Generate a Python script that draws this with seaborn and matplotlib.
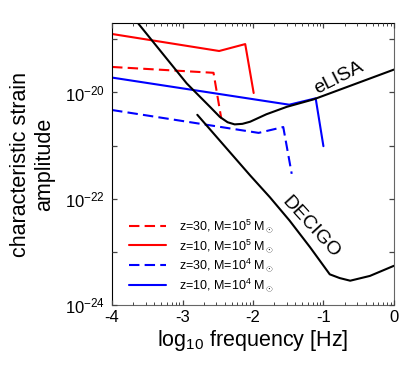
import numpy as np
import pandas as pd
import seaborn as sns
import matplotlib
matplotlib.use('Agg')
import matplotlib.pyplot as plt
from matplotlib.ticker import FixedLocator, FuncFormatter, NullFormatter

# values, log10 frequency [Hz] and log10 strain
elisa_logf = [-3.63, -2.94, -2.61, -2.47, -2.36, -2.26, -2.15, -2.04, -1.81, -1.52, -1.14, 0.0]
elisa_logh = [-18.70, -19.83, -20.27, -20.46, -20.56, -20.60, -20.59, -20.55, -20.41, -20.27, -20.13, -19.57]

decigo_logf = [-2.79, -2.04, -1.76, -1.48, -1.19, -0.91, -0.77, -0.62, -0.34, 0.0]
decigo_logh = [-20.42, -21.56, -21.97, -22.41, -22.91, -23.42, -23.49, -23.54, -23.45, -23.26]

z30_m5_logf = [-4.0, -2.56, -2.45]
z30_m5_logh = [-19.52, -19.63, -20.49]
z10_m5_logf = [-4.0, -2.48, -2.11, -1.99]
z10_m5_logh = [-18.90, -19.22, -19.09, -20.01]
z30_m4_logf = [-4.0, -1.92, -1.57, -1.45]
z30_m4_logh = [-20.33, -20.76, -20.65, -21.53]
z10_m4_logf = [-4.0, -1.485, -1.11, -1.0]
z10_m4_logh = [-19.72, -20.23, -20.11, -21.01]

source_labels = [r'z=30, M=10$^5$ M$_\odot$', r'z=10, M=10$^5$ M$_\odot$',
                 r'z=30, M=10$^4$ M$_\odot$', r'z=10, M=10$^4$ M$_\odot$']

sns.set_style('ticks')
plt.rcParams['font.family'] = ['Liberation Sans', 'DejaVu Sans']
plt.rcParams['mathtext.fontset'] = 'custom'
plt.rcParams['mathtext.rm'] = 'Liberation Sans'
plt.rcParams['mathtext.it'] = 'Liberation Sans:italic'
for k in ['text.color', 'axes.labelcolor', 'xtick.color', 'ytick.color']:
    plt.rcParams[k] = 'black'
# seaborn puts the axis below the lines, which hides inward ticks
plt.rcParams['axes.axisbelow'] = False

fig = plt.figure(figsize=(4.09, 3.69), dpi=100)
ax = fig.add_axes([0.274, 0.173, 0.689, 0.764])

sources = [(z30_m5_logf, z30_m5_logh, 'red', (5, 2.5)),
           (z10_m5_logf, z10_m5_logh, 'red', None),
           (z30_m4_logf, z30_m4_logh, 'blue', (5, 2.5)),
           (z10_m4_logf, z10_m4_logh, 'blue', None)]
for (lf, lh, col, dash), lab in zip(sources, source_labels):
    df = pd.DataFrame({'f': 10.0 ** np.array(lf), 'h': 10.0 ** np.array(lh)})
    sns.lineplot(data=df, x='f', y='h', sort=False, estimator=None,
                 color=col, lw=1.5, label=lab, ax=ax)
    if dash is not None:
        ax.lines[-1].set_dashes(dash)

for lf, lh in [(elisa_logf, elisa_logh), (decigo_logf, decigo_logh)]:
    df = pd.DataFrame({'f': 10.0 ** np.array(lf), 'h': 10.0 ** np.array(lh)})
    sns.lineplot(data=df, x='f', y='h', sort=False, estimator=None,
                 color='black', lw=1.5, ax=ax, legend=False)

ax.set_xscale('log')
ax.set_yscale('log')
ax.set_xlim(1e-4, 1)
ax.set_ylim(1e-24, 10 ** -18.698)

decades = [-4, -3, -2, -1, 0]
ax.xaxis.set_major_locator(FixedLocator([10.0 ** d for d in decades]))
ax.xaxis.set_major_formatter(FuncFormatter(lambda v, p: '%d' % round(np.log10(v))))
minor_x = [m * 10.0 ** d for d in decades[:-1] for m in range(2, 10)]
ax.xaxis.set_minor_locator(FixedLocator(minor_x))
ax.xaxis.set_minor_formatter(NullFormatter())

ax.yaxis.set_major_locator(FixedLocator([10.0 ** k for k in range(-24, -18)]))
def yfmt(v, p):
    k = int(round(np.log10(v)))
    return r'$10^{%d}$' % k if k % 2 == 0 else ''
ax.yaxis.set_major_formatter(FuncFormatter(yfmt))
ax.yaxis.set_minor_locator(FixedLocator([]))

ax.tick_params(which='both', direction='in', top=True, right=True, bottom=True, left=True,
               labelsize=12, color='#444444')
ax.tick_params(which='major', length=3.5, width=0.9)
ax.tick_params(which='minor', length=2, width=0.7)
ax.tick_params(axis='y', pad=5)

for s in ['left', 'top']:
    ax.spines[s].set_color('black')
for s in ['right', 'bottom']:
    ax.spines[s].set_color('#666666')

ax.set_xlabel(r'log$_{10}$ frequency [Hz]', fontsize=15.5, labelpad=2)
ax.set_ylabel('characteristic strain\namplitude', fontsize=15.5, labelpad=7)

ax.text(10 ** -0.78, 10 ** -19.73, 'eLISA', fontsize=14, rotation=27,
        ha='center', va='center')
ax.text(10 ** -1.18, 10 ** -22.54, 'DECIGO', fontsize=14, rotation=-47.5,
        ha='center', va='center')

ax.legend(loc='lower left', bbox_to_anchor=(0.02, 0.0), frameon=False,
          fontsize=9, handlelength=3.0, handletextpad=1.0, labelspacing=0.15)

fig.savefig('out.png', dpi=100)
